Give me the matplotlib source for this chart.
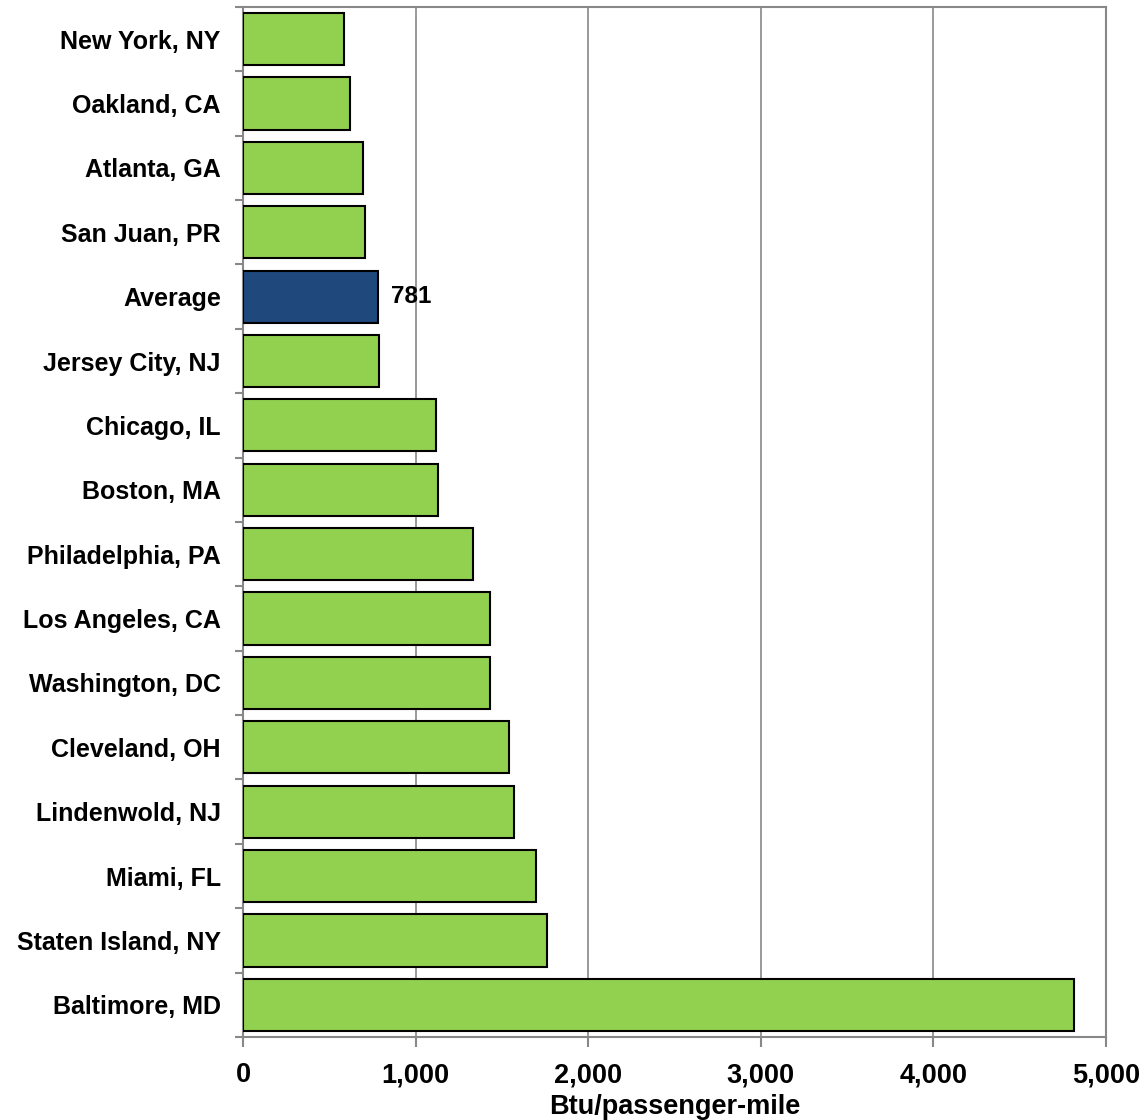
import numpy as np
import matplotlib.pyplot as plt
from matplotlib.ticker import FuncFormatter, FixedLocator

plt.rcParams["font.family"] = ["Liberation Sans", "DejaVu Sans"]
plt.rcParams["font.weight"] = "bold"

cities = [
    "New York, NY", "Oakland, CA", "Atlanta, GA", "San Juan, PR", "Average",
    "Jersey City, NJ", "Chicago, IL", "Boston, MA", "Philadelphia, PA",
    "Los Angeles, CA", "Washington, DC", "Cleveland, OH", "Lindenwold, NJ",
    "Miami, FL", "Staten Island, NY", "Baltimore, MD",
]
btu = [585, 620, 695, 707, 781, 788, 1118, 1130, 1333, 1431, 1431, 1541,
       1570, 1698, 1761, 4815]

green = "#92D050"
navy = "#1F497D"
colors = [navy if c == "Average" else green for c in cities]

fig = plt.figure(figsize=(11.48, 11.2), dpi=100)
ax = fig.add_axes([0.2117, 0.0741, 0.7517, 0.9197])

y = np.arange(len(cities))
ax.barh(y, btu, height=0.81, color=colors, edgecolor="black", linewidth=1.5, zorder=3)

avg_i = cities.index("Average")
ax.text(btu[avg_i] + 75, y[avg_i], f"{btu[avg_i]:,}", va="center", ha="left",
        fontsize=17.5, fontweight="bold", zorder=4)

ax.set_xlim(0, 5000)
ax.set_ylim(len(cities) - 0.5, -0.5)
ax.set_xticks(range(0, 5001, 1000))
ax.xaxis.set_major_formatter(FuncFormatter(lambda v, p: f"{int(v):,}"))
ax.set_yticks(y)
ax.set_yticklabels(cities)
ax.yaxis.set_minor_locator(FixedLocator(np.arange(-0.5, len(cities), 1)))

ax.tick_params(axis="y", which="major", length=0, pad=16, labelsize=18)
ax.tick_params(axis="y", which="minor", length=6, width=1.5, color="#888888", direction="out")
ax.tick_params(axis="x", which="major", length=7, width=1.5, color="#888888",
               direction="out", labelsize=19.5, pad=11)

ax.grid(axis="x", color="#888888", linewidth=1.2, zorder=0)
for s in ax.spines.values():
    s.set_color("#888888")
    s.set_linewidth(1.5)

ax.set_xlabel("Btu/passenger-mile", fontsize=19.5, fontweight="bold", labelpad=4)

fig.savefig("out.png", dpi=100)
